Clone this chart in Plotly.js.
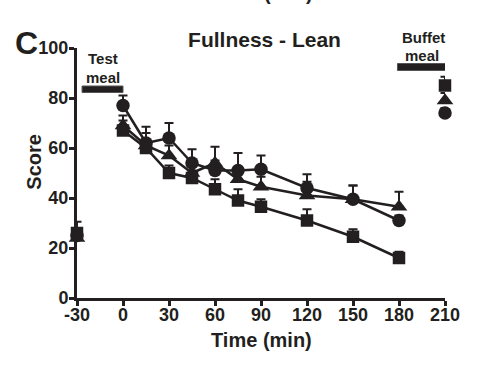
<!DOCTYPE html>
<html>
<head>
<meta charset="utf-8">
<script src="https://cdn.plot.ly/plotly-3.0.1.min.js"></script>
<style>
  html, body { margin: 0; padding: 0; background: #fff; }
  #chart { width: 504px; height: 370px; }
</style>
</head>
<body>
<div id="chart"></div>
<script>
// Time points (min)
var times = [-30, 0, 15, 30, 45, 60, 75, 90, 120, 150, 180, 210];
// Fullness score (mean) per condition
var circleScore   = [25, 77, 62, 64, 54, 51, 51, 51.5, 44, 39.5, 31, 74];
var triangleScore = [24, 69, 61, 57, 50, 54, 47.5, 44.5, 41, 39.5, 36.5, 79];
var squareScore   = [26, 67, 60, 50, 48, 43.5, 39, 36.5, 31, 24.5, 16, 85];
// Upper error (SEM)
var circleErr   = [3, 4, 6.5, 6, 5.5, 4, 7, 5.5, 5.5, 5.5, 2, 2];
var triangleErr = [4, 4, 5, 4, 4, 6.5, 4, 4, 5.5, 5.5, 6, 3];
var squareErr   = [4.5, 4, 3, 3, 3, 4, 4.5, 3, 4.5, 3, 2.5, 3.5];
var xTicks = [-30, 0, 30, 60, 90, 120, 150, 180, 210];
var yTicks = [0, 20, 40, 60, 80, 100];

var ink = '#231f20';
var FONT = 'Liberation Sans, Arial, sans-serif';

function pick(arr, idx) { return idx.map(function (i) { return arr[i]; }); }
var lineIdx = [1, 2, 3, 4, 5, 6, 7, 8, 9, 10];
var soloIdx = [0, 11];

function makeTraces(y, err, symbol, size) {
  var common = {
    type: 'scatter',
    cliponaxis: false,
    marker: { symbol: symbol, size: size, color: ink, line: { width: 0 } },
    line: { color: ink, width: 2.5 },
    showlegend: false,
    hoverinfo: 'x+y'
  };
  function errFor(idx) {
    return {
      type: 'data', symmetric: false,
      array: pick(err, idx),
      arrayminus: idx.map(function () { return 0; }),
      color: ink, thickness: 2, width: 4.5
    };
  }
  var a = Object.assign({}, common, {
    x: pick(times, lineIdx), y: pick(y, lineIdx), mode: 'lines+markers',
    error_y: errFor(lineIdx)
  });
  var b = Object.assign({}, common, {
    x: pick(times, soloIdx), y: pick(y, soloIdx), mode: 'markers',
    error_y: errFor(soloIdx)
  });
  return [a, b];
}

var data = []
  .concat(makeTraces(circleScore, circleErr, 'circle', 13.5))
  .concat(makeTraces(triangleScore, triangleErr, 'triangle-up', 14.5))
  .concat(makeTraces(squareScore, squareErr, 'square', 12.5));

var axisCommon = {
  showgrid: false, zeroline: false,
  showline: true, linecolor: ink, linewidth: 3,
  ticks: 'outside', ticklen: 5, tickwidth: 3, tickcolor: ink,
  tickfont: { family: FONT, size: 18, color: ink, weight: 'bold' },
  fixedrange: true
};

// pixel -> paper helpers (plot area: left 77, top 48, width 368, height 250)
function px(x) { return (x - 77) / 368; }
function py(y) { return (298 - y) / 250; }

function note(text, x, y, size, extra) {
  return Object.assign({
    text: '<b>' + text + '</b>', xref: 'paper', yref: 'paper', x: px(x), y: py(y),
    xanchor: 'center', yanchor: 'middle', showarrow: false,
    font: { family: FONT, size: size, color: ink }
  }, extra || {});
}

var layout = {
  width: 504, height: 370,
  margin: { l: 77, r: 59, t: 48, b: 72, pad: 0 },
  paper_bgcolor: '#fff', plot_bgcolor: '#fff',
  font: { family: FONT, color: ink },
  title: {
    text: '<b>Fullness - Lean</b>',
    font: { family: FONT, size: 21, color: ink },
    x: 264.5 / 504, xref: 'container', xanchor: 'center',
    y: 1 - 40 / 370, yref: 'container', yanchor: 'middle'
  },
  xaxis: Object.assign({}, axisCommon, {
    range: [-30, 210], tickvals: xTicks, ticktext: xTicks.map(String),
    ticklabelstandoff: -7
  }),
  yaxis: Object.assign({}, axisCommon, {
    range: [0, 100], tickvals: yTicks, ticktext: yTicks.map(String),
    ticklabelstandoff: -3
  }),
  shapes: [
    { type: 'rect', xref: 'x', yref: 'y', x0: -26.7, x1: 0, y0: 82.2, y1: 84.8,
      fillcolor: ink, line: { color: '#555', width: 1 } },
    { type: 'rect', xref: 'x', yref: 'y', x0: 179, x1: 210.5, y0: 91, y1: 93.8,
      fillcolor: ink, line: { color: '#555', width: 1 } }
  ],
  annotations: [
    note('C', 26, 43, 32),
    note('Time (min)', 262, -7, 20),
    note('Time (min)', 261.5, 340, 20),
    note('Score', 34, 161.7, 20, { textangle: -90 }),
    note('Test', 102.7, 58, 15),
    note('meal', 102.7, 77, 15),
    note('Buffet', 423, 38, 15),
    note('meal', 421.7, 55, 15)
  ]
};

Plotly.newPlot('chart', data, layout, { displayModeBar: false, staticPlot: true });
</script>
</body>
</html>
